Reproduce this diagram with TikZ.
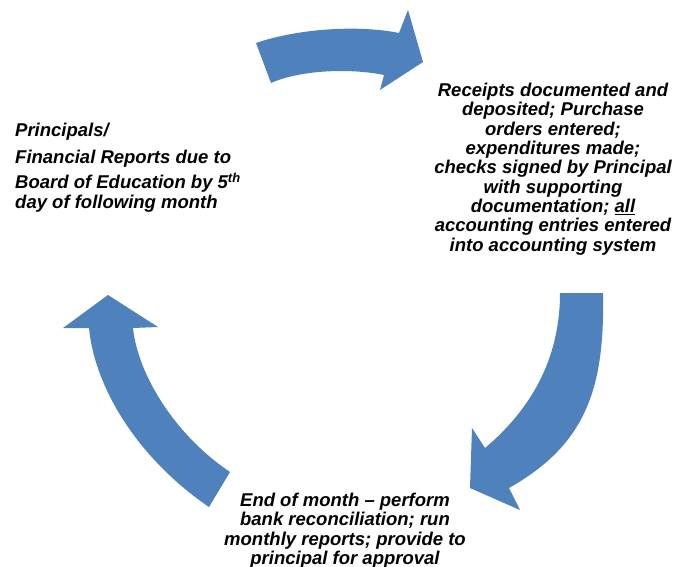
\documentclass[tikz,border=0pt]{standalone}
\usepackage{fontspec}
\setmainfont{Liberation Sans}
\definecolor{cycleblue}{HTML}{4F81BD}
\begin{document}
\begin{tikzpicture}[x=1pt,y=-1pt,
  flow/.style={fill=cycleblue, draw=none},
  steptext/.style={font=\fontsize{18.5}{19.3}\selectfont\bfseries\itshape, inner sep=0pt}]
\useasboundingbox (0,0) rectangle (677,567);

% curved block arrow, top: left to right
\fill[flow] (256,43) .. controls (300,28) and (360,25) .. (399,33)
  -- (408,10) -- (423,62) -- (380,90) -- (384,75)
  .. controls (350,68) and (300,70) .. (271,83) -- cycle;

% curved block arrow, right: top to bottom
\fill[flow] (603,293) .. controls (605,390) and (585,445) .. (509,488)
  -- (520,510) -- (470,488) -- (472,428) -- (485,448)
  .. controls (530,410) and (560,360) .. (560,293) -- cycle;

% curved block arrow, left: bottom to top
\fill[flow] (209,507) .. controls (140,460) and (95,390) .. (89,328)
  -- (63,328) -- (108,295) -- (158,327) -- (133,328)
  .. controls (138,375) and (175,435) .. (230,472) -- cycle;

% step texts
\node[steptext, anchor=north west, align=left] (reports) at (15,122.5)
  {Principals/\\[7.7pt]
   Financial Reports due to\\[5.3pt]
   Board of Education by 5\textsuperscript{th}\\
   day of following month};

\node[steptext, anchor=north, align=center] (entries) at (553,83)
  {Receipts documented and\\
   deposited; Purchase\\
   orders entered;\\
   expenditures made;\\
   checks signed by Principal\\
   with supporting\\
   documentation; \underline{all}\\
   accounting entries entered\\
   into accounting system};

\node[steptext, anchor=north, align=center] (monthend) at (345,493)
  {End of month -- perform\\
   bank reconciliation; run\\
   monthly reports; provide to\\
   principal for approval};
\end{tikzpicture}
\end{document}
